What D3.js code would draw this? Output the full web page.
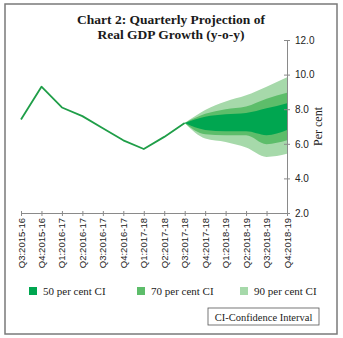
<!DOCTYPE html>
<html>
<head>
<meta charset="utf-8">
<script src="https://cdn.jsdelivr.net/npm/d3@7"></script>
<style>
    html, body { margin: 0; padding: 0; background: #fff; }
    svg { display: block; font-family: "Liberation Serif", "DejaVu Serif", serif; }
</style>
</head>
<body>
<svg width="343" height="338"></svg>
<script>
'use strict';

const QUARTERS = [
    'Q3:2015-16', 'Q4:2015-16', 'Q1:2016-17', 'Q2:2016-17', 'Q3:2016-17',
    'Q4:2016-17', 'Q1:2017-18', 'Q2:2017-18', 'Q3:2017-18', 'Q4:2017-18',
    'Q1:2018-19', 'Q2:2018-19', 'Q3:2018-19', 'Q4:2018-19',
];
// actual growth, Q3:2015-16 .. Q3:2017-18
const ACTUAL = [7.4, 9.3, 8.1, 7.6, 6.9, 6.2, 5.7, 6.4, 7.2];
// projection bands, Q3:2017-18 .. Q4:2018-19
const FAN_START = 8;
const UPPER_90 = [7.2, 7.96, 8.45, 8.8, 9.3, 9.85];
const UPPER_70 = [7.2, 7.73, 8.0, 8.15, 8.6, 8.95];
const UPPER_50 = [7.2, 7.57, 7.71, 7.78, 8.05, 8.35];
const LOWER_50 = [7.2, 6.8, 6.72, 6.72, 6.5, 6.8];
const LOWER_70 = [7.2, 6.55, 6.5, 6.5, 5.98, 6.2];
const LOWER_90 = [7.2, 6.3, 6.1, 5.78, 5.24, 5.42];
const Y_TICKS = [2, 4, 6, 8, 10, 12];
const LEGEND = ['50 per cent CI', '70 per cent CI', '90 per cent CI'];

const COLORS = { line: '#1f9e48', c50: '#00a650', c70: '#5dbd6a', c90: '#a6d9aa', axis: '#8a8a8a' };

const svg = d3.select('svg');

// frame
svg.append('rect')
    .attr('x', 5).attr('y', 4).attr('width', 332).attr('height', 330)
    .attr('fill', 'none').attr('stroke', '#7a7a7a').attr('stroke-width', 1.5);

// title
const title = svg.append('text')
    .attr('text-anchor', 'middle')
    .attr('font-weight', 'bold')
    .attr('font-size', 13.5)
    .attr('fill', '#1a1a1a');
title.append('tspan').attr('x', 171).attr('y', 24).text('Chart 2: Quarterly Projection of');
title.append('tspan').attr('x', 171).attr('y', 39).text('Real GDP Growth (y-o-y)');

const xScale = d3.scalePoint().domain(QUARTERS).range([21, 287]);
const yScale = d3.scaleLinear().domain([2, 12]).range([213, 40]);

// fan chart
const band = (lower, upper) => lower.map((v, i) => ({ q: QUARTERS[FAN_START + i], lo: v, hi: upper[i] }));
const area = d3.area()
    .x((d) => xScale(d.q))
    .y0((d) => yScale(d.lo))
    .y1((d) => yScale(d.hi))
    .curve(d3.curveMonotoneX);

svg.append('path').attr('d', area(band(LOWER_90, UPPER_90))).attr('fill', COLORS.c90);
svg.append('path').attr('d', area(band(LOWER_70, UPPER_70))).attr('fill', COLORS.c70);
svg.append('path').attr('d', area(band(LOWER_50, UPPER_50))).attr('fill', COLORS.c50);

// actual line
const line = d3.line()
    .x((d, i) => xScale(QUARTERS[i]))
    .y((d) => yScale(d));
svg.append('path')
    .attr('d', line(ACTUAL))
    .attr('fill', 'none')
    .attr('stroke', COLORS.line)
    .attr('stroke-width', 1.8)
    .attr('stroke-linejoin', 'round');

// x axis
const xAxis = svg.append('g')
    .attr('transform', `translate(0,${yScale(2)})`)
    .call(d3.axisBottom(xScale).tickSizeInner(3).tickSizeOuter(0).tickPadding(4));
xAxis.selectAll('.tick line').attr('y1', -2);
xAxis.selectAll('text')
    .attr('transform', 'rotate(-90)')
    .attr('x', -5).attr('y', 0).attr('dy', '0.32em')
    .attr('text-anchor', 'end')
    .attr('font-size', 9.5)
    .attr('font-family', '"Liberation Sans", Arial, sans-serif')
    .attr('fill', '#222');

// y axis (right)
const yAxis = svg.append('g')
    .attr('transform', `translate(${xScale(QUARTERS[QUARTERS.length - 1])},0)`)
    .call(d3.axisRight(yScale).tickValues(Y_TICKS).tickFormat(d3.format('.1f'))
        .tickSizeInner(3).tickSizeOuter(0).tickPadding(5));
yAxis.selectAll('.tick line').attr('x1', -3);
yAxis.selectAll('text').attr('font-size', 10).attr('fill', '#222');

[xAxis, yAxis].forEach((g) => {
    g.select('.domain').attr('stroke', COLORS.axis);
    g.selectAll('.tick line').attr('stroke', COLORS.axis);
});

svg.append('text')
    .attr('transform', `translate(322,${yScale(7)}) rotate(-90)`)
    .attr('text-anchor', 'middle')
    .attr('font-size', 12)
    .attr('fill', '#222')
    .text('Per cent');

// legend
const legendX = d3.scaleOrdinal().domain(LEGEND).range([29, 137, 240]);
const legendFill = d3.scaleOrdinal().domain(LEGEND).range([COLORS.c50, COLORS.c70, COLORS.c90]);
const legend = svg.append('g').selectAll('g').data(LEGEND).join('g')
    .attr('transform', (d) => `translate(${legendX(d)},287)`);
legend.append('rect').attr('width', 8).attr('height', 8).attr('fill', (d) => legendFill(d));
legend.append('text')
    .attr('x', 14).attr('y', 8)
    .attr('font-size', 11)
    .attr('fill', '#222')
    .text((d) => d);

// note box
svg.append('rect')
    .attr('x', 208).attr('y', 308).attr('width', 111).attr('height', 17)
    .attr('fill', '#fff').attr('stroke', '#555').attr('stroke-width', 0.8);
svg.append('text')
    .attr('x', 263.5).attr('y', 320.5)
    .attr('text-anchor', 'middle')
    .attr('font-size', 10.5)
    .attr('fill', '#222')
    .text('CI-Confidence Interval');
</script>
</body>
</html>
